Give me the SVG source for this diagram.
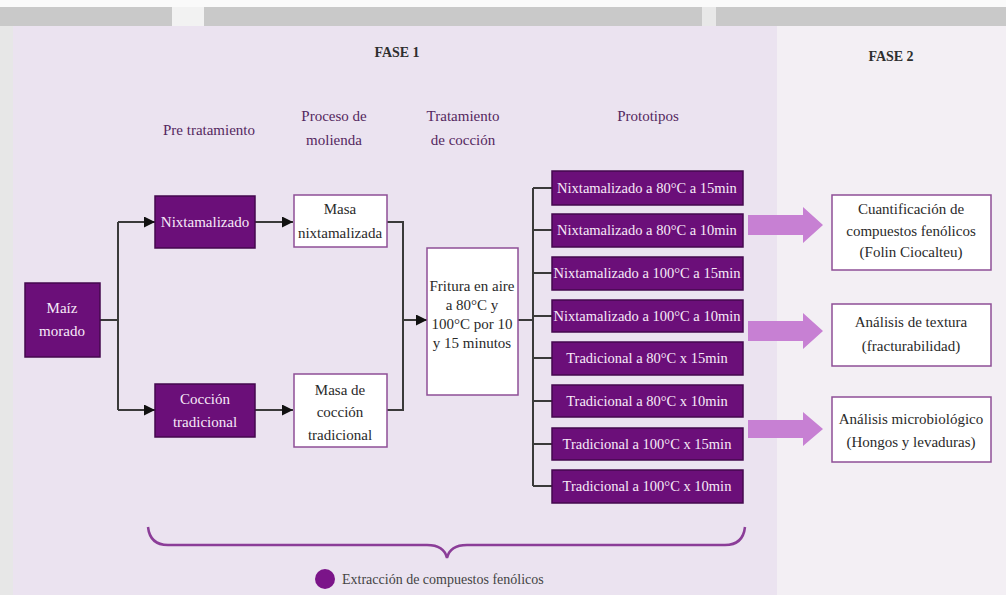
<svg xmlns="http://www.w3.org/2000/svg" width="1006" height="595" viewBox="0 0 1006 595">
<defs>
<marker id="ah" viewBox="0 0 10 10" refX="10" refY="5" markerWidth="12" markerHeight="11" markerUnits="userSpaceOnUse" orient="auto">
<path d="M0,0 L10,5 L0,10 Z" fill="#111"/>
</marker>
<style>
.t{font-family:"Liberation Serif","Times New Roman",serif;font-size:15px;text-anchor:middle}
.hd{fill:#55285f}
.ph{font-weight:bold;font-size:14px;fill:#2e2e2e}
.pb{fill:#6b0f79;stroke:#44094e;stroke-width:1.5}
.wb{fill:#ffffff;stroke:#8e4f96;stroke-width:1.5}
.wt{fill:#f7eaf8}
.dt{fill:#2a2a2a}
.pt{font-size:14.5px}
.ln{fill:none;stroke:#3a3a3a;stroke-width:2}
.big{fill:#c780d3}
</style>
</defs>
<rect x="0" y="0" width="1006" height="595" fill="#fafafa"/>
<rect x="0" y="7" width="1006" height="19" fill="#c9c9c9"/>
<rect x="172" y="7" width="32" height="19" fill="#f2f2f2"/>
<rect x="702" y="7" width="14" height="19" fill="#e8e8e8"/>
<rect x="0" y="26" width="13" height="569" fill="#e7e7e7"/>
<rect x="13" y="26" width="764" height="569" fill="#ebe3f0"/>
<rect x="777" y="26" width="229" height="569" fill="#f3eff4"/>
<text class="t ph" x="397" y="57">FASE 1</text>
<text class="t ph" x="891" y="61">FASE 2</text>
<g id="headers" class="t hd">
<text x="209" y="135">Pre tratamiento</text>
<text x="334" y="121">Proceso de</text>
<text x="334" y="145">molienda</text>
<text x="463" y="121">Tratamiento</text>
<text x="463" y="145">de cocción</text>
<text x="648" y="121">Prototipos</text>
</g>
<g id="connectors">
<path class="ln" d="M100,320 H118 M118,222 V410"/>
<path class="ln" d="M118,222 H155" marker-end="url(#ah)"/>
<path class="ln" d="M118,410 H155" marker-end="url(#ah)"/>
<path class="ln" d="M255,222 H293" marker-end="url(#ah)"/>
<path class="ln" d="M255,410 H293" marker-end="url(#ah)"/>
<path class="ln" d="M387,222 H403 V410 H387"/>
<path class="ln" d="M403,320 H427" marker-end="url(#ah)"/>
<path class="ln" d="M518,320 H533 M533,188 V486"/>
<path class="ln" d="M533,188 H552 M533,230 H552 M533,273 H552 M533,316 H552 M533,358 H552 M533,401 H552 M533,444 H552 M533,486 H552"/>
<path class="big" d="M748,215 H803 V207 L823,225 L803,243 V235 H748 Z"/>
<path class="big" d="M748,321 H803 V313 L823,331 L803,349 V341 H748 Z"/>
<path class="big" d="M748,420 H803 V412 L823,429 L803,446 V438 H748 Z"/>
<path d="M148,527 Q150,545 168,545 L427,545 Q444,545 447,558 Q450,545 467,545 L725,545 Q743,545 745,527" fill="none" stroke="#8b3d98" stroke-width="2.5"/>
</g>
<g id="maiz"><rect class="pb" x="25" y="283" width="75" height="74"/><text class="t wt" x="62" y="313">Maíz</text><text class="t wt" x="62" y="336">morado</text></g>
<g id="nixtamalizado"><rect class="pb" x="155" y="196" width="100" height="52"/><text class="t wt" x="205" y="227">Nixtamalizado</text></g>
<g id="coccion"><rect class="pb" x="155" y="384" width="100" height="53"/><text class="t wt" x="205" y="404">Cocción</text><text class="t wt" x="205" y="427">tradicional</text></g>
<g id="masa-nixt"><rect class="wb" x="294" y="195" width="93" height="52"/><text class="t dt" x="340" y="214">Masa</text><text class="t dt" x="340" y="238">nixtamalizada</text></g>
<g id="masa-trad"><rect class="wb" x="294" y="374" width="93" height="73"/><text class="t dt" x="340" y="395">Masa de</text><text class="t dt" x="340" y="417">cocción</text><text class="t dt" x="340" y="440">tradicional</text></g>
<g id="fritura"><rect class="wb" x="427" y="248" width="91" height="147"/><text class="t dt" x="472" y="291">Fritura en aire</text><text class="t dt" x="472" y="310">a 80°C y</text><text class="t dt" x="472" y="329">100°C por 10</text><text class="t dt" x="472" y="348">y 15 minutos</text></g>
<g id="p1"><rect class="pb" x="552" y="171" width="191" height="34"/><text class="t wt pt" x="647" y="193">Nixtamalizado a 80°C a 15min</text></g>
<g id="p2"><rect class="pb" x="552" y="214" width="191" height="33"/><text class="t wt pt" x="647" y="235">Nixtamalizado a 80°C a 10min</text></g>
<g id="p3"><rect class="pb" x="552" y="257" width="191" height="33"/><text class="t wt pt" x="647" y="278">Nixtamalizado a 100°C a 15min</text></g>
<g id="p4"><rect class="pb" x="552" y="300" width="191" height="32"/><text class="t wt pt" x="647" y="321">Nixtamalizado a 100°C a 10min</text></g>
<g id="p5"><rect class="pb" x="552" y="342" width="191" height="33"/><text class="t wt pt" x="647" y="363">Tradicional a 80°C x 15min</text></g>
<g id="p6"><rect class="pb" x="552" y="385" width="191" height="32"/><text class="t wt pt" x="647" y="406">Tradicional a 80°C x 10min</text></g>
<g id="p7"><rect class="pb" x="552" y="428" width="191" height="32"/><text class="t wt pt" x="647" y="449">Tradicional a 100°C x 15min</text></g>
<g id="p8"><rect class="pb" x="552" y="470" width="191" height="33"/><text class="t wt pt" x="647" y="491">Tradicional a 100°C x 10min</text></g>
<g id="r1"><rect class="wb" x="832" y="195" width="159" height="75"/><text class="t dt" x="911" y="214">Cuantificación de</text><text class="t dt" x="911" y="236">compuestos fenólicos</text><text class="t dt" x="911" y="257">(Folin Ciocalteu)</text></g>
<g id="r2"><rect class="wb" x="832" y="304" width="159" height="62"/><text class="t dt" x="911" y="327">Análisis de textura</text><text class="t dt" x="911" y="351">(fracturabilidad)</text></g>
<g id="r3"><rect class="wb" x="832" y="397" width="159" height="65"/><text class="t dt" x="911" y="424">Análisis microbiológico</text><text class="t dt" x="911" y="447">(Hongos y levaduras)</text></g>
<g id="legend"><circle cx="325" cy="579" r="10" fill="#7b1489"/><text x="342" y="584" font-family="Liberation Serif, serif" font-size="14" fill="#444">Extracción de compuestos fenólicos</text></g>
</svg>
